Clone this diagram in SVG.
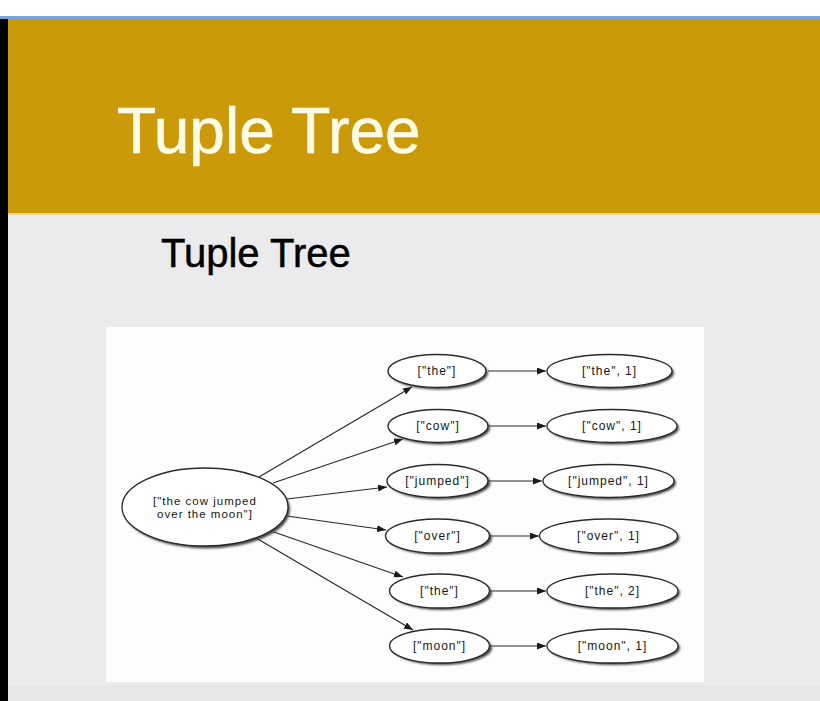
<svg xmlns="http://www.w3.org/2000/svg" width="820" height="701" viewBox="0 0 820 701">
  <defs>
    <style>
      .node { fill: #ffffff; stroke: #2a2a2a; stroke-width: 1.3; }
      .shadow { fill: #4a4a4a; filter: url(#soft); }
      .lbl { font-family: "Liberation Sans", Arial, Helvetica, sans-serif; font-size: 12px; letter-spacing: 1px; fill: #161616; text-anchor: middle; }
      .root-lbl { font-size: 11.5px; }
      .edge { fill: none; stroke: #2a2a2a; stroke-width: 1.2; marker-end: url(#arrow); }
      .heading { font-family: "Liberation Sans", Arial, Helvetica, sans-serif; }
    </style>
    <filter id="soft" x="-20%" y="-40%" width="140%" height="180%">
      <feGaussianBlur stdDeviation="1.1"/>
    </filter>
    <marker id="arrow" markerUnits="userSpaceOnUse" markerWidth="10" markerHeight="8" refX="9" refY="3.5" orient="auto">
      <path d="M0,0 L9,3.5 L0,7 Z" fill="#1a1a1a"/>
    </marker>
  </defs>

  <!-- slide background -->
  <rect x="0" y="0" width="820" height="701" fill="#ebeaed"/>
  <rect x="0" y="0" width="820" height="16" fill="#ffffff"/>
  <rect x="0" y="16" width="820" height="3" fill="#7ba4dd"/>
  <rect x="0" y="19" width="820" height="194" fill="#cb9a0a"/>
  <rect x="0" y="213" width="820" height="2" fill="#e9d49a"/>
  <rect x="0" y="686" width="820" height="15" fill="#e7e6e9"/>
  <rect x="0" y="19" width="8" height="682" fill="#000000"/>

  <!-- headings -->
  <text class="heading" x="117" y="153" font-size="64" fill="#fffbe4" stroke="#fffbe4" stroke-width="0.7">Tuple Tree</text>
  <text class="heading" x="161" y="267" font-size="40" fill="#000000" stroke="#000000" stroke-width="0.5">Tuple Tree</text>

  <!-- figure panel -->
  <rect x="106" y="327" width="598" height="355" fill="#fdfcfe"/>

  <!-- connectors -->
  <g id="connectors">
    <path class="edge" d="M259,477 L412,387"/>
    <path class="edge" d="M273,483 L403,439"/>
    <path class="edge" d="M287,499 L387,487"/>
    <path class="edge" d="M287,516 L386,530"/>
    <path class="edge" d="M271,531 L403,577"/>
    <path class="edge" d="M256,538 L413,630"/>
    <path class="edge" d="M488,371 L546,371"/>
    <path class="edge" d="M488,426 L546,426"/>
    <path class="edge" d="M488,481 L542,481"/>
    <path class="edge" d="M490,536 L539,536"/>
    <path class="edge" d="M490,591 L546,591"/>
    <path class="edge" d="M490,646 L546,646"/>
  </g>

  <!-- root sentence -->
  <g id="root">
    <ellipse class="shadow" cx="207" cy="509.5" rx="83" ry="39"/>
    <ellipse class="node" cx="205" cy="507" rx="83" ry="39"/>
    <text class="lbl root-lbl" x="205" y="505">["the cow jumped</text>
    <text class="lbl root-lbl" x="205" y="518">over the moon"]</text>
  </g>

  <!-- split words -->
  <g id="w-the">
    <ellipse class="shadow" cx="439" cy="373" rx="49" ry="16.5"/>
    <ellipse class="node" cx="437" cy="371" rx="49" ry="16.5"/>
    <text class="lbl" x="437" y="375">["the"]</text>
  </g>
  <g id="w-cow">
    <ellipse class="shadow" cx="440" cy="428" rx="50" ry="16.5"/>
    <ellipse class="node" cx="438" cy="426" rx="50" ry="16.5"/>
    <text class="lbl" x="438" y="430">["cow"]</text>
  </g>
  <g id="w-jumped">
    <ellipse class="shadow" cx="440" cy="483" rx="50.5" ry="16.5"/>
    <ellipse class="node" cx="437.5" cy="481" rx="50.5" ry="16.5"/>
    <text class="lbl" x="437.5" y="485">["jumped"]</text>
  </g>
  <g id="w-over">
    <ellipse class="shadow" cx="440" cy="538" rx="52" ry="17"/>
    <ellipse class="node" cx="437.5" cy="536" rx="52" ry="17"/>
    <text class="lbl" x="437.5" y="540">["over"]</text>
  </g>
  <g id="w-the2">
    <ellipse class="shadow" cx="442" cy="593" rx="50" ry="17"/>
    <ellipse class="node" cx="439.5" cy="591" rx="50" ry="17"/>
    <text class="lbl" x="439.5" y="595">["the"]</text>
  </g>
  <g id="w-moon">
    <ellipse class="shadow" cx="442" cy="648" rx="50" ry="17"/>
    <ellipse class="node" cx="439.5" cy="646" rx="50" ry="17"/>
    <text class="lbl" x="439.5" y="650">["moon"]</text>
  </g>

  <!-- word counts -->
  <g id="c-the">
    <ellipse class="shadow" cx="611.5" cy="373" rx="62.5" ry="16.5"/>
    <ellipse class="node" cx="609.5" cy="371" rx="62.5" ry="16.5"/>
    <text class="lbl" x="609.5" y="375">["the", 1]</text>
  </g>
  <g id="c-cow">
    <ellipse class="shadow" cx="614" cy="428" rx="65" ry="16.5"/>
    <ellipse class="node" cx="612" cy="426" rx="65" ry="16.5"/>
    <text class="lbl" x="612" y="430">["cow", 1]</text>
  </g>
  <g id="c-jumped">
    <ellipse class="shadow" cx="610.5" cy="483" rx="65.5" ry="16.5"/>
    <ellipse class="node" cx="608.5" cy="481" rx="65.5" ry="16.5"/>
    <text class="lbl" x="608.5" y="485">["jumped", 1]</text>
  </g>
  <g id="c-over">
    <ellipse class="shadow" cx="610.5" cy="538" rx="69" ry="17"/>
    <ellipse class="node" cx="608.5" cy="536" rx="69" ry="17"/>
    <text class="lbl" x="608.5" y="540">["over", 1]</text>
  </g>
  <g id="c-the2">
    <ellipse class="shadow" cx="614.5" cy="593" rx="65.5" ry="17"/>
    <ellipse class="node" cx="612.5" cy="591" rx="65.5" ry="17"/>
    <text class="lbl" x="612.5" y="595">["the", 2]</text>
  </g>
  <g id="c-moon">
    <ellipse class="shadow" cx="614.5" cy="648" rx="65.5" ry="17"/>
    <ellipse class="node" cx="612.5" cy="646" rx="65.5" ry="17"/>
    <text class="lbl" x="612.5" y="650">["moon", 1]</text>
  </g>
</svg>
